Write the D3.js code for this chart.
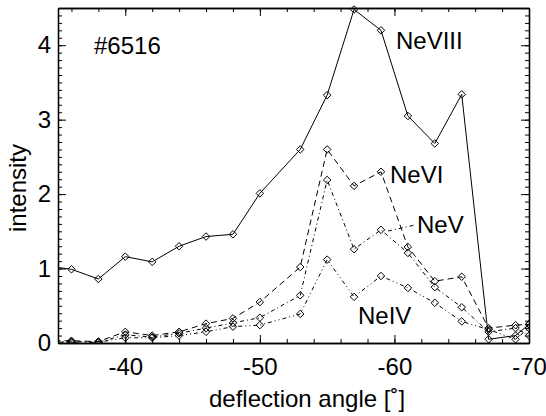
<!DOCTYPE html>
<html lang="en">
<head>
<meta charset="UTF-8"/>
<title>Ne line intensities vs deflection angle</title>
<script src="https://d3js.org/d3.v7.min.js"></script>
<style>
	body { margin: 0; background: #fff; }
	text { font-family: "Liberation Sans", Arial, Helvetica, sans-serif; fill: #000; }
</style>
</head>
<body>
<script>
	// deflection angles (deg) of the measured points
	var angles = [-34, -36, -38, -40, -42, -44, -46, -48, -50, -53, -55, -57, -59, -61, -63, -65, -67, -69, -70];

	// intensities
	var neVIII = [1.04, 0.99, 0.86, 1.16, 1.09, 1.30, 1.43, 1.46, 2.01, 2.60, 3.33, 4.48, 4.20, 3.05, 2.68, 3.34, 0.05, 0.10, 0.25];
	var neVI   = [0.03, 0.03, 0.02, 0.15, 0.10, 0.15, 0.26, 0.33, 0.55, 1.02, 2.60, 2.11, 2.30, 1.29, 0.83, 0.89, 0.20, 0.24, 0.25];
	var neV    = [0.02, 0.02, 0.01, 0.11, 0.08, 0.13, 0.20, 0.27, 0.34, 0.64, 2.19, 1.26, 1.52, 1.21, 0.75, 0.48, 0.15, 0.20, 0.10];
	var neIV   = [0.01, 0.01, 0.01, 0.07, 0.07, 0.10, 0.15, 0.22, 0.24, 0.39, 1.12, 0.62, 0.90, 0.74, 0.54, 0.29, 0.18, 0.05, 0.20];

	var xMajor = [-40, -50, -60, -70];
	var yMajor = [0, 1, 2, 3, 4];

	var w = 546, h = 416;
	var padL = 58, padR = 529, padT = 8, padB = 343;   // plot box edges in px

	var svg = d3.select("body").append("svg")
		.attr("width", w)
		.attr("height", h);

	// x axis runs from -35 (left) to -70 (right)
	var xScale = d3.scaleLinear().domain([-35, -70]).range([padL, padR]);
	var yScale = d3.scaleLinear().domain([0, 4.5]).range([padB, padT]);

	var xMinor = d3.range(-36, -70, -2);
	var yMinor = d3.range(0, 45).map(function(d) { return d / 10; });

	// axes - ticks pointing inwards on all four sides
	function styleAxis(g) {
		g.selectAll("path.domain").attr("stroke", "#000").attr("stroke-width", 1.3);
		g.selectAll(".tick line").attr("stroke", "#000").attr("stroke-width", 1);
		g.selectAll(".tick text").style("font-size", "24px").attr("fill", "#000");
	}

	svg.append("g").attr("transform", "translate(0," + padB + ")")
		.call(d3.axisBottom(xScale).tickValues(xMinor).tickSize(-4).tickSizeOuter(0).tickFormat(""))
		.call(styleAxis);
	svg.append("g").attr("transform", "translate(0," + padB + ")")
		.call(d3.axisBottom(xScale).tickValues(xMajor).tickSize(-8).tickSizeOuter(0).tickPadding(15)
			.tickFormat(function(d) { return d; }))
		.call(styleAxis);

	svg.append("g").attr("transform", "translate(0," + padT + ")")
		.call(d3.axisTop(xScale).tickValues(xMinor).tickSize(-4).tickSizeOuter(0).tickFormat(""))
		.call(styleAxis);
	svg.append("g").attr("transform", "translate(0," + padT + ")")
		.call(d3.axisTop(xScale).tickValues(xMajor).tickSize(-8).tickSizeOuter(0).tickFormat(""))
		.call(styleAxis);

	svg.append("g").attr("transform", "translate(" + padL + ",0)")
		.call(d3.axisLeft(yScale).tickValues(yMinor).tickSize(-4).tickSizeOuter(0).tickFormat(""))
		.call(styleAxis);
	svg.append("g").attr("transform", "translate(" + padL + ",0)")
		.call(d3.axisLeft(yScale).tickValues(yMajor).tickSize(-8).tickSizeOuter(0).tickPadding(7)
			.tickFormat(function(d) { return d; }))
		.call(styleAxis);

	svg.append("g").attr("transform", "translate(" + padR + ",0)")
		.call(d3.axisRight(yScale).tickValues(yMinor).tickSize(-4).tickSizeOuter(0).tickFormat(""))
		.call(styleAxis);
	svg.append("g").attr("transform", "translate(" + padR + ",0)")
		.call(d3.axisRight(yScale).tickValues(yMajor).tickSize(-8).tickSizeOuter(0).tickFormat(""))
		.call(styleAxis);

	// clip the data to the plot box
	svg.append("clipPath").attr("id", "plotclip")
		.append("rect")
		.attr("x", padL).attr("y", padT - 4)
		.attr("width", padR - padL).attr("height", padB - padT + 4);

	var series = [
		{ values: neVIII, dash: null },
		{ values: neVI,   dash: "6,4" },
		{ values: neV,    dash: "4,3,1,3" },
		{ values: neIV,   dash: "4,3,1,3,1,3" }
	];

	var line = d3.line()
		.x(function(d) { return xScale(d[0]); })
		.y(function(d) { return yScale(d[1]); });

	var diamond = d3.symbol().type(d3.symbolDiamond2).size(36);

	var plot = svg.append("g").attr("clip-path", "url(#plotclip)");

	series.forEach(function(s) {
		var pts = angles.map(function(a, i) { return [a, s.values[i]]; });

		plot.append("path")
			.datum(pts)
			.attr("d", line)
			.attr("fill", "none")
			.attr("stroke", "#000")
			.attr("stroke-width", 1)
			.attr("stroke-dasharray", s.dash);

		plot.selectAll(null)
			.data(pts)
			.enter()
			.append("path")
			.attr("d", diamond)
			.attr("transform", function(d) {
				return "translate(" + xScale(d[0]) + "," + yScale(d[1]) + ")";
			})
			.attr("fill", "none")
			.attr("stroke", "#000")
			.attr("stroke-width", 1);
	});

	// series labels and shot number
	svg.append("text").attr("x", 94).attr("y", 54).style("font-size", "24px").text("#6516");
	svg.append("text").attr("x", 396).attr("y", 49).style("font-size", "24px").text("NeVIII");
	svg.append("text").attr("x", 390).attr("y", 183).style("font-size", "24px").text("NeVI");
	svg.append("text").attr("x", 417).attr("y", 233).style("font-size", "24px").text("NeV");
	svg.append("text").attr("x", 358).attr("y", 324).style("font-size", "24px").text("NeIV");

	// small leader line to the NeV label
	svg.append("line")
		.attr("x1", 388).attr("y1", 231)
		.attr("x2", 415).attr("y2", 225)
		.attr("stroke", "#000").attr("stroke-width", 1)
		.attr("stroke-dasharray", "4,3,1,3");

	// axis titles
	svg.append("text")
		.attr("text-anchor", "middle")
		.attr("x", 307)
		.attr("y", 407)
		.style("font-size", "24px")
		.text("deflection angle [˚]");

	svg.append("text")
		.attr("text-anchor", "middle")
		.attr("transform", "translate(26,188) rotate(-90)")
		.style("font-size", "24px")
		.text("intensity");
</script>
</body>
</html>
